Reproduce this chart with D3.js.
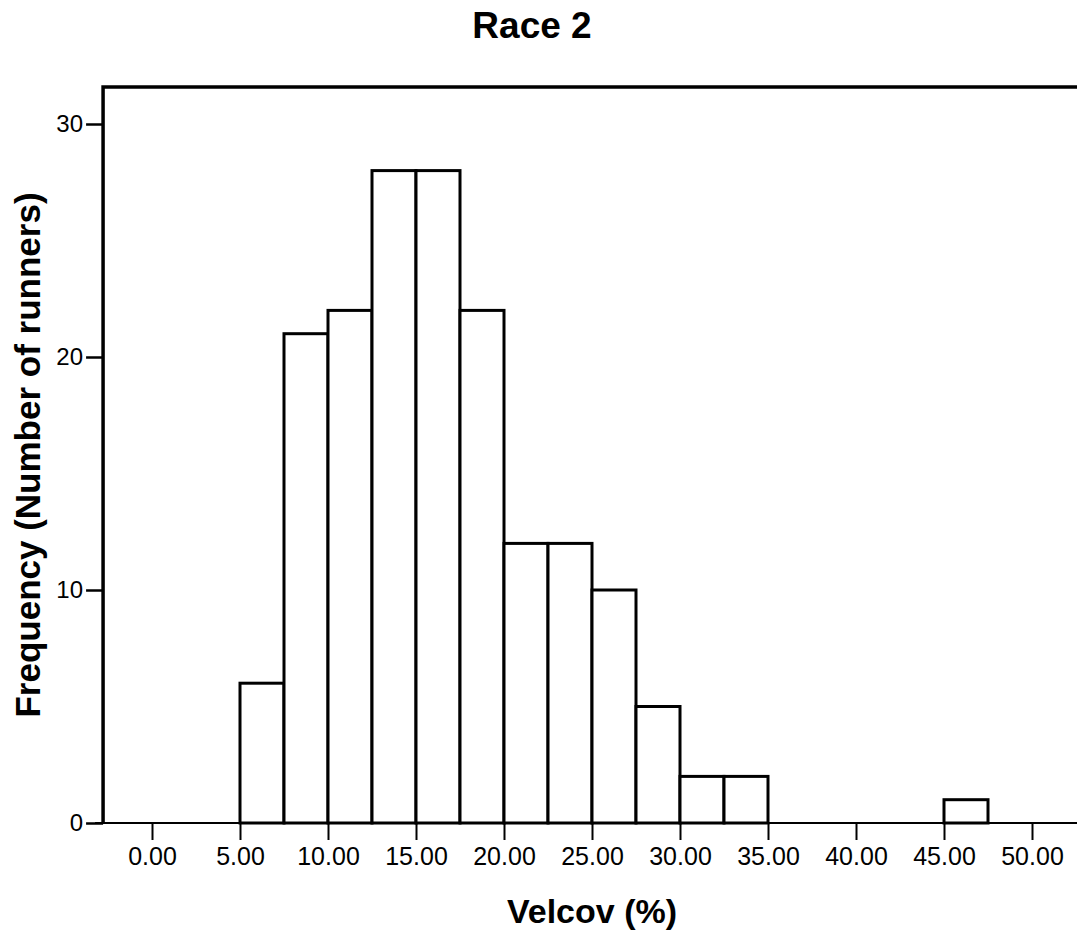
<!DOCTYPE html>
<html>
<head>
<meta charset="utf-8">
<script src="https://cdn.jsdelivr.net/npm/d3@7"></script>
<style>
  body { margin: 0; background: #fff; }
  text { font-family: "Liberation Sans", Arial, sans-serif; fill: #000; }
</style>
</head>
<body>
<div id="chart"></div>
<script>
// histogram bins (Velcov %, width 2.5) and counts
const binStarts = [5, 7.5, 10, 12.5, 15, 17.5, 20, 22.5, 25, 27.5, 30, 32.5, 45];
const counts    = [6, 21, 22, 28, 28, 22, 12, 12, 10, 5, 2, 2, 1];
const binWidth = 2.5;
const xTicks = [0, 5, 10, 15, 20, 25, 30, 35, 40, 45, 50];
const yTicks = [0, 10, 20, 30];

let W = 1077, H = 934;
let svg = d3.select("#chart").append("svg").attr("width", W).attr("height", H);

// frame: left 103, top 87, bottom 823
let x = d3.scaleLinear().domain([0, 50]).range([152, 1032]);
let y = d3.scaleLinear().domain([0, 30]).range([823, 124]);

let frameLeft = x(-2.78), frameTop = 87;

// bars
svg.append("g").selectAll("rect")
  .data(binStarts.map((s, i) => ({s: s, c: counts[i]})))
  .join("rect")
    .attr("x", d => x(d.s))
    .attr("y", d => y(d.c))
    .attr("width", d => x(d.s + binWidth) - x(d.s))
    .attr("height", d => y(0) - y(d.c))
    .attr("fill", "#fff")
    .attr("stroke", "#000")
    .attr("stroke-width", 3);

// x axis
let xAxis = svg.append("g")
  .attr("transform", "translate(0," + y(0) + ")")
  .call(d3.axisBottom(x).tickValues(xTicks).tickFormat(d3.format(".2f")).tickSize(17).tickSizeOuter(0));
xAxis.select(".domain").remove();
xAxis.selectAll(".tick line").attr("stroke-width", 2);
xAxis.selectAll(".tick text").attr("y", 42).attr("dy", null)
  .style("font-size", "25px");

svg.append("line")
  .attr("x1", frameLeft - 8).attr("x2", W)
  .attr("y1", y(0)).attr("y2", y(0))
  .attr("stroke", "#000").attr("stroke-width", 2);

// y axis
let yAxis = svg.append("g")
  .attr("transform", "translate(" + frameLeft + ",0)")
  .call(d3.axisLeft(y).tickValues(yTicks).tickSize(17).tickSizeOuter(0));
yAxis.select(".domain").remove();
yAxis.selectAll(".tick line").attr("stroke-width", 2.5);
yAxis.selectAll(".tick text").attr("x", -20)
  .style("font-size", "24px");

// frame left + top
svg.append("path")
  .attr("d", "M" + frameLeft + "," + y(0) + "V" + frameTop + "H" + (W + 5))
  .attr("fill", "none").attr("stroke", "#000").attr("stroke-width", 3.5);

// titles
svg.append("text").attr("x", 532).attr("y", 38)
  .attr("text-anchor", "middle").attr("font-size", 37).attr("font-weight", "bold")
  .text("Race 2");

svg.append("text").attr("x", 592).attr("y", 923)
  .attr("text-anchor", "middle").attr("font-size", 34).attr("font-weight", "bold")
  .text("Velcov (%)");

svg.append("text")
  .attr("transform", "translate(40,455) rotate(-90)")
  .attr("text-anchor", "middle").attr("font-size", 35).attr("font-weight", "bold")
  .text("Frequency (Number of runners)");
</script>
</body>
</html>
